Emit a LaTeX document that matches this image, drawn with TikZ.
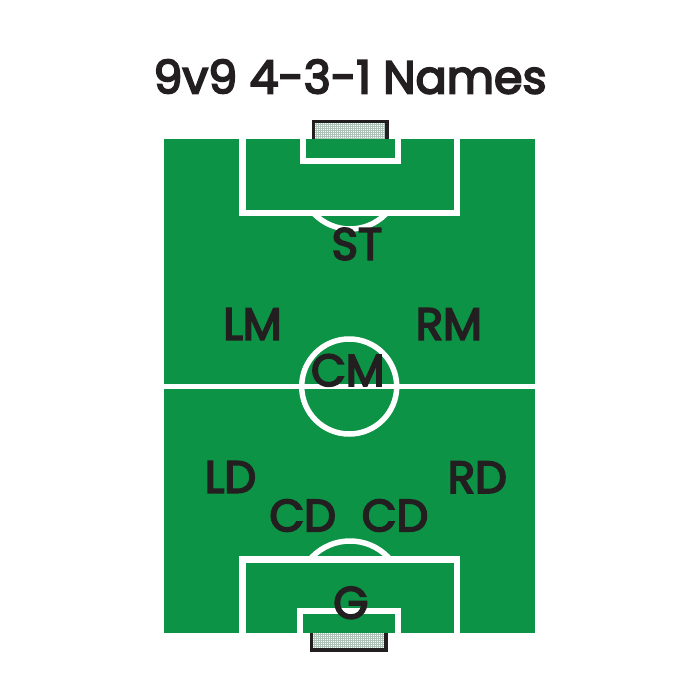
\documentclass[tikz,border=0pt]{standalone}
\usepackage{fontspec}
\setmainfont{Poppins}
\newfontfamily\semib{Poppins}[FakeBold=4]
\definecolor{pitch}{RGB}{12,147,69}
\definecolor{ink}{RGB}{35,31,32}
\definecolor{netc}{RGB}{175,195,185}
\begin{document}
\begin{tikzpicture}[x=1pt,y=-1pt,
  fieldline/.style={draw=white,line width=5.5pt},
  bigline/.style={draw=white,line width=6.5pt},
  posn/.style={text=ink,inner sep=0pt,font=\semib\fontsize{45}{50}\selectfont},
  ttl/.style={text=ink,inner sep=0pt,font=\semib\fontsize{46}{52}\selectfont},
  goalframe/.style={draw=ink,line width=3.5pt},
  goalnet/.style={draw=netc,line width=0.4pt}]
\useasboundingbox (0,0) rectangle (700,700);
\fill[white] (0,0) rectangle (700,700);
% pitch
\fill[pitch] (164,139) rectangle (535,633);
% top arc
\begin{scope}
\clip (164,216) rectangle (535,386);
\draw[fieldline] (350,179) circle[radius=50];
\end{scope}
% bottom arc
\begin{scope}
\clip (164,386) rectangle (535,556);
\draw[fieldline] (350,594) circle[radius=53];
\end{scope}
% top boxes
\draw[bigline] (242.7,139) -- (242.7,213) -- (457,213) -- (457,139);
\draw[fieldline] (303,139) -- (303,161) -- (398,161) -- (398,139);
% bottom boxes
\draw[bigline] (242.7,633) -- (242.7,559.7) -- (457,559.7) -- (457,633);
\draw[fieldline] (300,633) -- (300,611) -- (398,611) -- (398,633);
% halfway
\draw[fieldline] (164,386.7) -- (535,386.7);
\draw[fieldline] (349.2,386.5) circle[radius=47.5];
% top goal
\fill[white] (312,120) rectangle (389,139);
\foreach \i in {316,318,...,386} \draw[goalnet] (\i,123) -- (\i,139);
\foreach \j in {124,126,...,138} \draw[goalnet] (315,\j) -- (386,\j);
\draw[goalframe] (313.7,139) -- (313.7,121.7) -- (387.2,121.7) -- (387.2,139);
% bottom goal
\fill[white] (310,633) rectangle (388,652);
\foreach \i in {314,316,...,384} \draw[goalnet] (\i,633) -- (\i,649);
\foreach \j in {634,636,...,648} \draw[goalnet] (313,\j) -- (385,\j);
\draw[goalframe] (311.7,633) -- (311.7,650) -- (386,650) -- (386,633);
% title
\node[ttl] (title) at (350,76.7) {9v9 4-3-1 Names};
% positions
\node[posn] (st) at (357,244) {ST};
\node[posn] (lm) at (252.5,324) {LM};
\node[posn] (rm) at (448.8,324) {RM};
\node[posn] (cm) at (347.8,370.3) {CM};
\node[posn] (ld) at (230.5,477) {LD};
\node[posn] (rd) at (477.3,477.3) {RD};
\node[posn] (cd1) at (302.7,515.5) {CD};
\node[posn] (cd2) at (395,515.5) {CD};
\node[posn] (g) at (350.8,602.8) {G};
\end{tikzpicture}
\end{document}
